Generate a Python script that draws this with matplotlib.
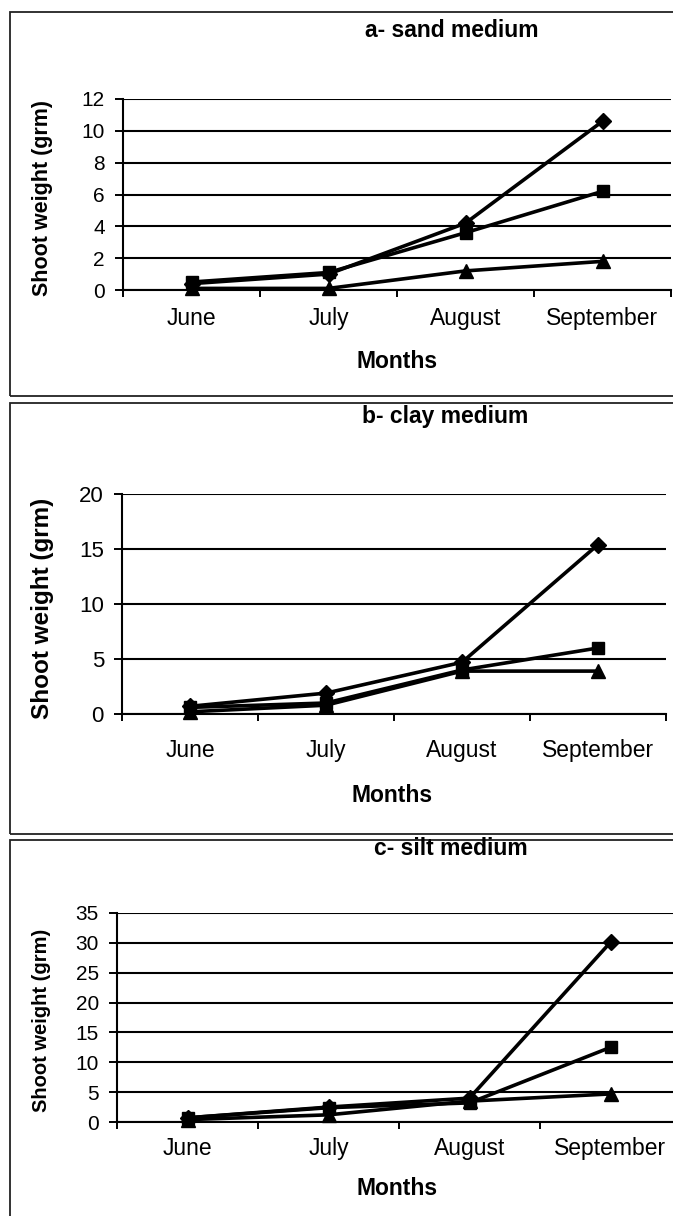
import numpy as np
import matplotlib.pyplot as plt
from matplotlib.patches import Rectangle

plt.rcParams['font.family'] = ['Liberation Sans', 'DejaVu Sans']

months = ['June', 'July', 'August', 'September']

# shoot weight (grm) per medium, three series (diamond, square, triangle)
sand_diamond = [0.4, 1.0, 4.2, 10.6]
sand_square = [0.5, 1.1, 3.6, 6.2]
sand_triangle = [0.1, 0.1, 1.2, 1.8]

clay_diamond = [0.7, 1.9, 4.7, 15.4]
clay_square = [0.6, 1.0, 4.0, 6.0]
clay_triangle = [0.2, 0.8, 3.9, 3.9]

silt_diamond = [0.7, 2.5, 4.0, 30.1]
silt_square = [0.7, 2.4, 3.2, 12.5]
silt_triangle = [0.4, 1.2, 3.5, 4.7]

titles = ['a- sand medium', 'b- clay medium', 'c- silt medium']
ymax = [12, 20, 35]
ystep = [2, 5, 5]

W, H = 673, 1216
fig = plt.figure(figsize=(W / 100, H / 100), dpi=100)

def fx(px):
    return px / W

def fy(py):
    return 1 - py / H

# pixel layout: axes box (left, right, top, bottom), frame (top, bottom)
axes_px = [(123, 671, 99, 290), (122, 666, 494, 714), (117, 681, 913, 1122)]
frames_px = [(12, 396), (403, 834), (840, 1240)]
title_px = [(452, 37, 16.5), (445, 423, 16.5), (451, 855, 16.5)]
ylab_px = [(43, 198, 15.5), (43, 608, 17.5), (42, 1020, 14.5)]
ytick_size = [15, 16, 15]
months_px = [(397, 368), (392, 802), (397, 1195)]
xpad = [12, 18, 11]

series = [
    (sand_diamond, sand_square, sand_triangle),
    (clay_diamond, clay_square, clay_triangle),
    (silt_diamond, silt_square, silt_triangle),
]

for i in range(3):
    # panel frame
    ft, fb = frames_px[i]
    fig.patches.append(Rectangle((fx(10), fy(fb)), fx(700) - fx(10), fy(ft) - fy(fb),
                                 transform=fig.transFigure, fill=False,
                                 edgecolor='#222222', lw=1.3))

    l, r, t, b = axes_px[i]
    ax = fig.add_axes([fx(l), fy(b), (r - l) / W, (b - t) / H])
    x = np.arange(len(months))
    d, s, tr = series[i]
    ax.plot(x, d, color='black', lw=2.6, marker='D', ms=8, zorder=3, clip_on=False)
    ax.plot(x, s, color='black', lw=2.6, marker='s', ms=8.5, zorder=3, clip_on=False)
    ax.plot(x, tr, color='black', lw=2.6, marker='^', ms=10, zorder=3, clip_on=False)

    ax.set_xlim(-0.5, 3.5)
    ax.set_ylim(0, ymax[i])
    ax.set_yticks(np.arange(0, ymax[i] + 1, ystep[i]))
    ax.yaxis.grid(True, color='black', lw=1.5)
    ax.set_axisbelow(True)

    # ticks at category boundaries, labels at category centres
    ax.set_xticks(np.arange(-0.5, 4, 1))
    ax.set_xticklabels([])
    ax.set_xticks(x, minor=True)
    ax.set_xticklabels(months, minor=True, fontsize=16.5)
    ax.tick_params(axis='x', which='minor', length=0, pad=xpad[i])
    ax.tick_params(axis='x', which='major', direction='out', length=5, width=1.4)
    ax.tick_params(axis='y', direction='out', length=6, width=1.4, pad=7,
                   labelsize=ytick_size[i])

    for side in ['top', 'right']:
        ax.spines[side].set_visible(False)
    ax.spines['left'].set_linewidth(1.5)
    ax.spines['bottom'].set_linewidth(1.5)

    tx, ty, ts = title_px[i]
    fig.text(fx(tx), fy(ty), titles[i], ha='center', va='baseline',
             fontsize=ts, fontweight='bold')
    yx, yy, ys = ylab_px[i]
    fig.text(fx(yx), fy(yy), 'Shoot weight (grm)', ha='center', va='center',
             rotation=90, fontsize=ys, fontweight='bold')
    mx, my = months_px[i]
    fig.text(fx(mx), fy(my), 'Months', ha='center', va='baseline',
             fontsize=16.5, fontweight='bold')

fig.savefig('out.png', dpi=100)
